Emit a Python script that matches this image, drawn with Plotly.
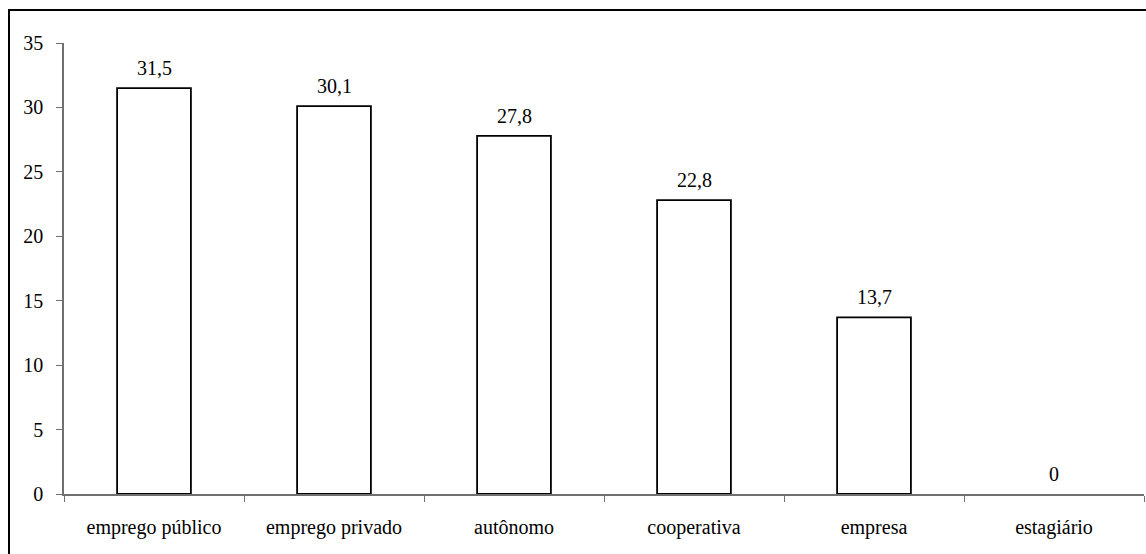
import plotly.graph_objects as go

categories = ["emprego público", "emprego privado", "autônomo", "cooperativa", "empresa", "estagiário"]
values = [31.5, 30.1, 27.8, 22.8, 13.7, 0]
y_ticks = [0, 5, 10, 15, 20, 25, 30, 35]


def fmt(v):
    s = f"{v:.1f}".replace(".", ",")
    return "0" if v == 0 else s


FONT = "'Times New Roman', 'Liberation Serif', Tinos, 'DejaVu Serif', serif"
FS = 20

fig = go.Figure(
    go.Bar(
        x=categories,
        y=values,
        marker=dict(
            color="white",
            line=dict(color="black", width=[1.8 if v > 0 else 0 for v in values]),
        ),
        width=0.41,
        hoverinfo="skip",
    )
)

for c, v in zip(categories, values):
    fig.add_annotation(
        x=c, y=v, text=fmt(v), showarrow=False,
        yanchor="bottom", yshift=7,
        font=dict(family=FONT, size=FS, color="black"),
    )

# outer frame around the whole chart
W, H = 1146, 554
ml, mr, mt, mb = 64, 2, 43, 60
pw, ph = W - ml - mr, H - mt - mb
fig.add_shape(
    type="rect", xref="paper", yref="paper",
    x0=(9 - ml) / pw, x1=(1160 - ml) / pw,
    y0=(H - mb - 570) / ph, y1=(H - mb - 10) / ph,
    line=dict(color="black", width=2), fillcolor="rgba(0,0,0,0)",
    layer="below",
)

fig.update_layout(
    width=W, height=H,
    margin=dict(l=ml, r=mr, t=mt, b=mb),
    paper_bgcolor="white", plot_bgcolor="white",
    showlegend=False,
    font=dict(family=FONT, size=FS, color="black"),
    xaxis=dict(
        showline=True, linecolor="#707070", linewidth=1.5,
        ticks="outside", tickson="boundaries", ticklen=6, tickcolor="#707070",
        showgrid=False, zeroline=False,
        ticklabelstandoff=14,
        tickfont=dict(family=FONT, size=FS, color="black"),
    ),
    yaxis=dict(
        range=[0, 35], tickvals=y_ticks,
        showline=True, linecolor="#707070", linewidth=1.5,
        ticks="outside", ticklen=6, tickcolor="#707070",
        showgrid=False, zeroline=False,
        ticklabelstandoff=9,
        tickfont=dict(family=FONT, size=FS, color="black"),
    ),
)

fig.write_html("out.html")
